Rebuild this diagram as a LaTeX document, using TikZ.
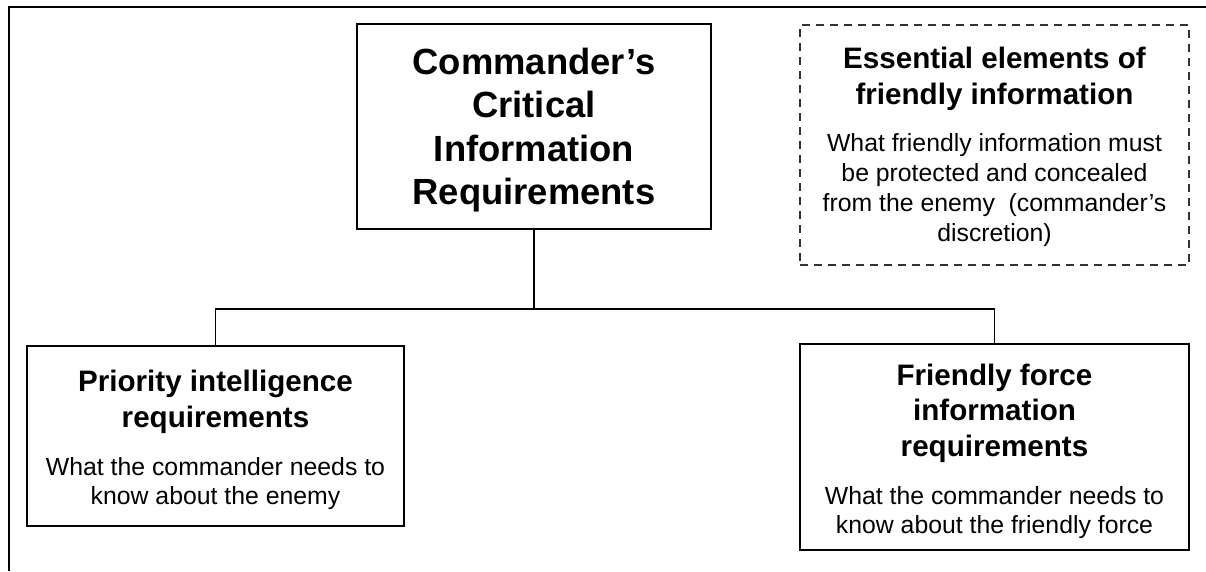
\documentclass[tikz,border=0pt]{standalone}
\usepackage{fontspec}
\setmainfont{Liberation Sans}
\begin{document}
\begin{tikzpicture}[x=1pt,y=-1pt,
  boxline/.style={draw=black, line width=1.9pt},
  solidbox/.style={boxline, rectangle, inner sep=0pt},
  dashbox/.style={draw=black!80, line width=1.9pt, dash pattern=on 8pt off 6pt, rectangle, inner sep=0pt},
  conn/.style={draw=black, line width=1.4pt},
  bigtitle/.style={anchor=base, align=center, inner sep=0pt, font=\fontsize{36.4pt}{43.5pt}\selectfont\bfseries},
  boxtitle/.style={anchor=base, align=center, inner sep=0pt, font=\fontsize{29.6pt}{35.5pt}\selectfont\bfseries},
  bodytext/.style={anchor=base, align=center, inner sep=0pt, font=\fontsize{24.8pt}{29pt}\selectfont}
]
\useasboundingbox (0,0) rectangle (1206,571);
% outer frame (top and left edges)
\draw[line width=2pt] (9,571) -- (9,7) -- (1206,7);

% boxes
\node[solidbox, minimum width=354pt, minimum height=205pt] (cc) at (534,126.5) {};
\node[dashbox, minimum width=389pt, minimum height=240pt] (eefi) at (994.5,145) {};
\node[solidbox, minimum width=377pt, minimum height=180pt] (pir) at (215.5,436) {};
\node[solidbox, minimum width=389pt, minimum height=206pt] (ffir) at (994.5,447) {};

% texts (anchored at the baseline of their last line)
\node[bigtitle] (cct) at (534,204.5) {Commander’s\\Critical\\Information\\Requirements};
\node[boxtitle] (eefit) at (994.5,104) {Essential elements of\\friendly information};
\node[bodytext, font=\fontsize{24.8pt}{29.7pt}\selectfont] (eefib) at (994.5,241) {What friendly information must\\be protected and concealed\\from the enemy\ \ (commander’s\\discretion)};
\node[boxtitle] (pirt) at (215.5,427) {Priority intelligence\\requirements};
\node[bodytext] (pirb) at (215.5,504) {What the commander needs to\\know about the enemy};
\node[boxtitle] (ffirt) at (994.5,456) {Friendly force\\information\\requirements};
\node[bodytext] (ffirb) at (994.5,533) {What the commander needs to\\know about the friendly force};

% connectors
\coordinate (hb) at (534,309);
\draw[conn] (cc.south) -- (hb);
\draw[conn] (pir.north) |- (hb) -| (ffir.north);
\end{tikzpicture}
\end{document}
